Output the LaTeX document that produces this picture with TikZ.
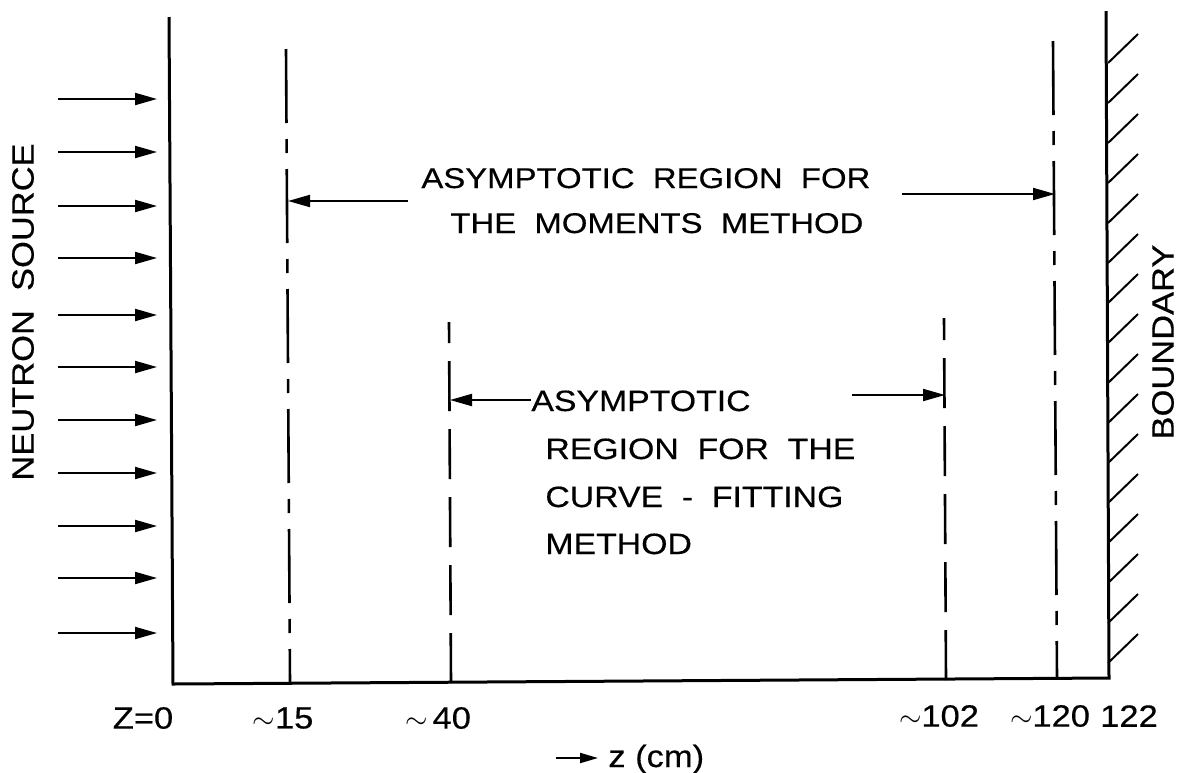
\documentclass[tikz,border=0pt]{standalone}
\usepackage{fontspec}
\setmainfont{Liberation Sans}[FakeStretch=1.12,FakeBold=0.4]
\newfontfamily\upfont{Liberation Sans}[FakeStretch=1.15,WordSpace=2.4,FakeBold=0.4]
\newfontfamily\lofont{Liberation Sans}[FakeStretch=1.15,WordSpace=2,FakeBold=0.4]
\usetikzlibrary{arrows.meta}
\begin{document}
\begin{tikzpicture}[x=0.5pt,y=-0.5pt,
  mainline/.style={line width=1.5pt},
  dashdot/.style={line width=1.3pt,dash pattern=on 37pt off 8pt on 7pt off 8pt},
  dashline/.style={line width=1.3pt,dash pattern=on 25pt off 9pt},
  arr/.style={line width=1pt,-{Triangle[length=11pt,width=6pt]}},
  hatch/.style={line width=1pt},
  lbl/.style={inner sep=0pt,font=\fontsize{15.4}{18}\selectfont},
  uptxt/.style={inner sep=0pt,anchor=base west,font=\upfont\fontsize{14.3}{16}\selectfont},
  lotxt/.style={inner sep=0pt,anchor=base west,font=\lofont\fontsize{14.7}{17}\selectfont},
]
\useasboundingbox (0,0) rectangle (1183,772);

% frame
\coordinate (lt) at (169,17);
\coordinate (lb) at (173,684);
\coordinate (rb) at (1109,678);
\coordinate (rt) at (1106,11);
\draw[mainline] (lt) -- (lb) -- (rb) -- (rt);

% hatching on boundary
\foreach \i in {0,...,15}{
  \draw[hatch] (1108,63+40*\i) -- ++(30,-29);
}

% dash-dot lines
\coordinate (a15t) at (286,49);
\coordinate (a15b) at (290,683);
\draw[dashdot] (a15t) -- (a15b);
\coordinate (a120t) at (1053,41);
\coordinate (a120b) at (1057,679);
\draw[dashdot] (a120t) -- (a120b);

% dashed lines
\coordinate (a40t) at (449,322);
\coordinate (a40b) at (451,683);
\draw[dashline] (a40b) -- (a40t);
\coordinate (a102t) at (944,318);
\coordinate (a102b) at (946,680);
\draw[dashline] (a102b) -- (a102t);

% source arrows
\foreach \y [count=\k] in {99,152,206,258,315,367,420,473,526,578,633}{
  \coordinate (s\k) at (58,\y);
  \coordinate (e\k) at (157,\y);
  \draw[arr] (s\k) -- (e\k);
}

% upper text and arrows
\node[uptxt] (up1) at (421,188) {ASYMPTOTIC REGION FOR};
\node[uptxt] (up2) at (450,233) {THE MOMENTS METHOD};
\coordinate (ul1) at (408,201);
\coordinate (ul2) at (288,201);
\draw[arr] (ul1) -- (ul2);
\coordinate (ur1) at (902,194);
\coordinate (ur2) at (1055,194);
\draw[arr] (ur1) -- (ur2);

% lower text and arrows
\node[lotxt] (lo1) at (531,411) {ASYMPTOTIC};
\node[lotxt] (lo2) at (545,459) {REGION FOR THE};
\node[lotxt] (lo3) at (545,507) {CURVE - FITTING};
\node[lotxt] (lo4) at (545,554) {METHOD};
\coordinate (ll2) at (450,400);
\draw[arr] (lo1.west |- ll2) -- (ll2);
\coordinate (lr1) at (852,395);
\coordinate (lr2) at (945,395);
\draw[arr] (lr1) -- (lr2);

% axis labels
\node[lbl] (z0) at (143,718) {Z=0};
\node[lbl] (z15) at (283,718) {$\sim$15};
\node[lbl] (z40) at (438,718) {$\sim$\,40};
\node[lbl] (z102) at (939,716) {$\sim$102};
\node[lbl] (z120) at (1050,716) {$\sim$120};
\node[lbl] (z122) at (1129,716) {122};

\coordinate (za) at (556,758);
\coordinate (zb) at (598,758);
\node[lbl,anchor=base west] (zcm) at (608,767) {z (cm)};
\draw[line width=1pt,-{Triangle[length=9pt,width=5pt]}] (za) -- (zb);

% side labels
\node[lbl,rotate=90] (ns) at (23,312) {NEUTRON\ \ SOURCE};
\node[lbl,rotate=90] (bd) at (1163,342) {BOUNDARY};
\end{tikzpicture}
\end{document}
